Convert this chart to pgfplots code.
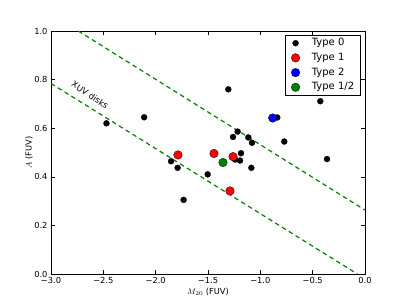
\documentclass[border=0pt]{standalone}
\usepackage{fontspec}
\setmainfont{DejaVu Sans}
\usepackage{pgfplots}
\pgfplotsset{compat=1.18}
\definecolor{mplgreen}{rgb}{0,0.5,0}
\begin{document}
\begin{tikzpicture}[x=1pt,y=1pt]
\useasboundingbox (0,0) rectangle (407,305);
\begin{axis}[
  at={(51pt,31pt)}, anchor=south west,
  scale only axis, width=314pt, height=243pt,
  xmin=-3, xmax=0, ymin=0, ymax=1,
  xtick={-3,-2.5,-2,-1.5,-1,-0.5,0},
  xticklabels={−3.0,−2.5,−2.0,−1.5,−1.0,−0.5,0.0},
  ytick={0,0.2,0.4,0.6,0.8,1},
  yticklabels={0.0,0.2,0.4,0.6,0.8,1.0},
  tick align=inside, tick pos=both, major tick length=4pt,
  tick style={black, line width=0.5pt},
  axis line style={line width=0.7pt},
  ticklabel style={font=\fontsize{8.3}{9.5}\selectfont},
  xlabel={$M_{20}$ (FUV)}, ylabel={$A$ (FUV)},
  label style={font=\fontsize{8.3}{9.5}\selectfont},
  xlabel style={at={(axis description cs:0.5,-0.074)}, anchor=center},
  ylabel style={at={(axis description cs:-0.07,0.5)}, anchor=center},
  legend style={at={(rel axis cs:0.987,0.984)}, anchor=north east, draw=black,
    font=\fontsize{10}{12}\selectfont, line width=0.6pt,
    inner xsep=5.5pt, inner ysep=3pt, row sep=4.7pt,
    nodes={inner xsep=1pt, inner ysep=0pt, text height=7.5pt, text depth=2.5pt},
    /tikz/every odd column/.append style={column sep=11pt}},
  legend cell align=left,
  clip=true,
]
\addplot[mplgreen, line width=1.2pt, dash pattern=on 4.5pt off 3.5pt, forget plot] coordinates {(-2.739,1.0) (0,0.263)};
\addplot[mplgreen, line width=1.2pt, dash pattern=on 4.5pt off 3.5pt, forget plot] coordinates {(-3,0.784) (-0.073,0)};
\addplot[only marks, mark=*, mark size=3pt, mark options={fill=black, draw=black, line width=0.3pt}] coordinates {
(-2.47,0.62) (-2.11,0.645) (-1.853,0.464) (-1.79,0.437) (-1.733,0.305)
(-1.503,0.41) (-1.306,0.760) (-1.261,0.564) (-1.217,0.586) (-1.185,0.497)
(-1.194,0.467) (-1.242,0.471) (-1.115,0.562) (-1.08,0.54) (-1.086,0.437)
(-0.838,0.644) (-0.771,0.545) (-0.427,0.711) (-0.363,0.473)
};
\addlegendentry{Type 0}
\addplot[only marks, mark=*, mark size=4.3pt, mark options={fill=red, draw=black, line width=0.3pt}] coordinates {
(-1.787,0.49) (-1.443,0.496) (-1.261,0.483) (-1.29,0.342)
};
\addlegendentry{Type 1}
\addplot[only marks, mark=*, mark size=4.3pt, mark options={fill=blue, draw=black, line width=0.3pt}] coordinates {
(-0.882,0.642)
};
\addlegendentry{Type 2}
\addplot[only marks, mark=*, mark size=4.3pt, mark options={fill=mplgreen, draw=black, line width=0.3pt}] coordinates {
(-1.357,0.459)
};
\addlegendentry{Type 1/2}
\node[rotate=-34, font=\fontsize{8.5}{10}\selectfont] at (axis cs:-2.627,0.737) {XUV disks};
\end{axis}
\end{tikzpicture}
\end{document}
